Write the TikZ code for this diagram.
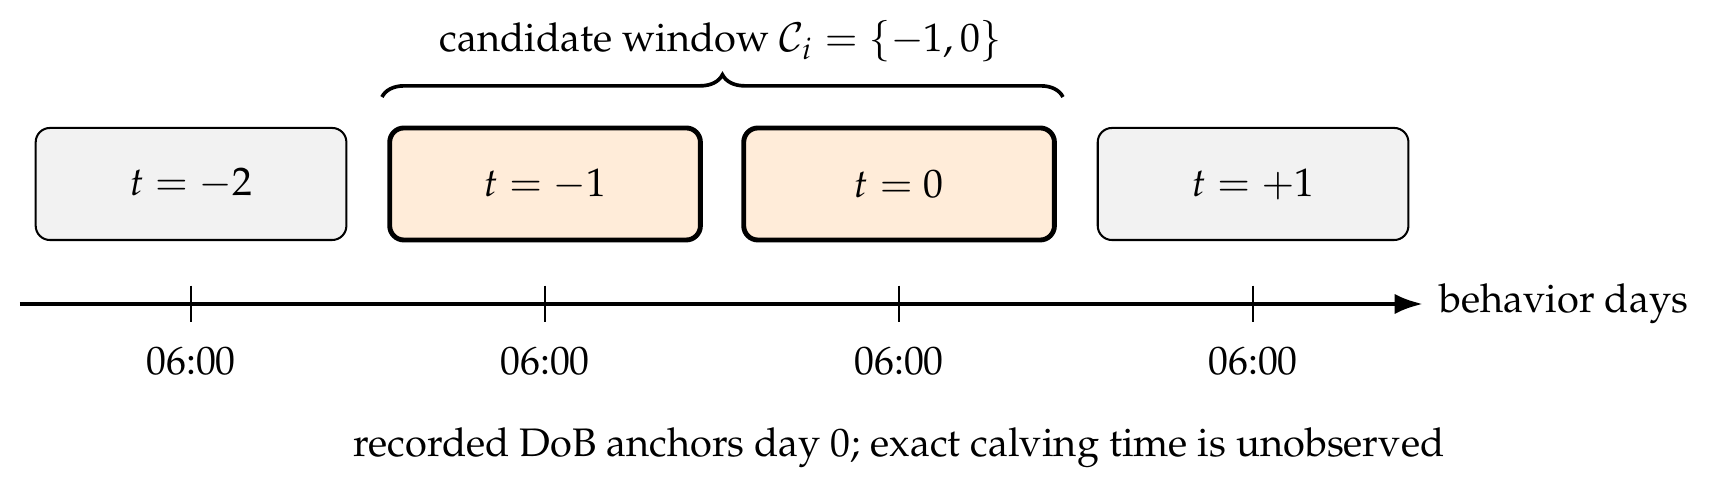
\documentclass[tikz,border=0pt]{standalone}
\usepackage[T1]{fontenc}
\usepackage{mathpazo}
\usepackage{amsmath}
\usetikzlibrary{arrows.meta,decorations.pathreplacing,positioning}

\tikzset{
  daybox/.style={draw,rounded corners=3.5pt,minimum width=2.69cm,minimum height=0.97cm,fill=gray!10,line width=0.5pt},
  candbox/.style={daybox,fill=orange!15,line width=1.2pt},
  tickmark/.style={line width=0.4pt},
}

\begin{document}
\begin{tikzpicture}[font=\fontsize{9.8pt}{11.8pt}\selectfont]
    \useasboundingbox (0,0) rectangle (14.805,-4.268);
    % day boxes
    \node[daybox] (d1) at (1.654,-1.593) {$t=-2$};
    \node[candbox] (d2) at (4.719,-1.593) {$t=-1$};
    \node[candbox] (d3) at (7.784,-1.593) {$t=0$};
    \node[daybox] (d4) at (10.849,-1.593) {$t=+1$};
    % brace over the candidate days
    \coordinate (b0) at (3.307,-0.84);
    \coordinate (b1) at (9.203,-0.84);
    \draw[line width=0.9pt,decorate,decoration={brace,amplitude=5.5pt}] (b0) -- (b1);
    \node (win) at (6.24,-0.355) {candidate window $\mathcal{C}_i=\{-1,0\}$};
    % time axis
    \coordinate (a0) at (0.173,-2.632);
    \coordinate (a1) at (12.32,-2.632);
    \draw[line width=1pt,-{Latex[length=7pt,width=5pt]}] (a0) -- (a1);
    \node[right=0.5pt of a1] (axlab) {behavior days};
    \foreach \i in {1,...,4}
    {
        \coordinate (t\i) at (d\i |- a0);
        \draw[tickmark] (t\i) +(0,0.16) -- +(0,-0.16);
        \node (lab\i) at (d\i |- 0,-3.126) {06:00};
    }
    \node (note) at (d3 |- 0,-3.88) {recorded DoB anchors day 0; exact calving time is unobserved};
\end{tikzpicture}
\end{document}
